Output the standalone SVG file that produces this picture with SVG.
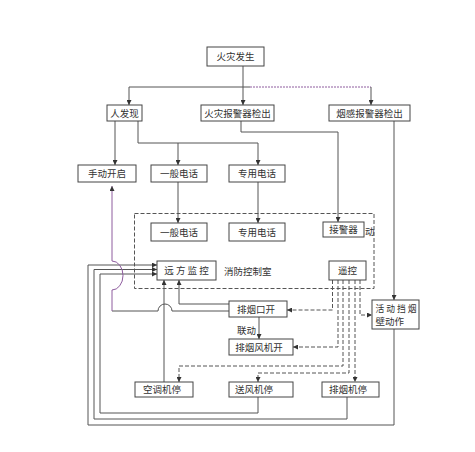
<svg xmlns="http://www.w3.org/2000/svg" width="475" height="452" viewBox="0 0 475 452">
<defs>
<marker id="ah" viewBox="0 0 6 6" refX="6" refY="3" markerWidth="5" markerHeight="5" markerUnits="userSpaceOnUse" orient="auto">
<path d="M0,0 L6,3 L0,6 Z" fill="#333"/>
</marker>
<style>
.box{fill:#fff;stroke:#444;stroke-width:1}
.t{font-family:"Noto Sans CJK SC","Noto Sans",sans-serif;font-size:9.5px;fill:#333;text-anchor:middle}
.tl{font-family:"Noto Sans CJK SC","Noto Sans",sans-serif;font-size:9.5px;fill:#333}
.ln{fill:none;stroke:#555;stroke-width:1}
.lna{fill:none;stroke:#555;stroke-width:1;marker-end:url(#ah)}
.pu{fill:none;stroke:#8e5c9e;stroke-width:1}
.da{fill:none;stroke:#555;stroke-width:1;stroke-dasharray:4,2;marker-end:url(#ah)}
.frame{fill:none;stroke:#555;stroke-width:1;stroke-dasharray:4,2}
</style>
</defs>
<rect width="475" height="452" fill="#fff"/>

<g id="controlroom">
<rect class="frame" x="134.5" y="213.5" width="239.5" height="75"/>
<text class="tl" x="224" y="274.5">消防控制室</text>
<text class="tl" x="365" y="235">动</text>
</g>

<g id="connectors">
<path class="lna" d="M243,66 V105"/>
<path class="ln" d="M129,87 H250"/>
<path class="pu" d="M250,87 H371" stroke-dasharray="2,1"/>
<path class="lna" d="M129,87 V105"/>
<path class="lna" d="M371,87 V105"/>
<path class="lna" d="M115,121 V165"/>
<path class="ln" d="M138,121 V143 H258"/>
<path class="lna" d="M178,143 V165"/>
<path class="lna" d="M258,143 V165"/>
<path class="lna" d="M241,121 V132 H338 V222"/>
<path class="lna" d="M394,121 V300"/>
<path class="lna" d="M178,182 V223"/>
<path class="lna" d="M258,182 V223"/>
<path class="lna" d="M394,329 V425 H88 V265 H157"/>
<path class="lna" d="M347,397 V419 H94 V269.5 H157"/>
<path class="lna" d="M258,397 V413 H100 V274 H157"/>
<path class="ln" d="M229,311 H172 A7,7 0 0 0 158,311 H112"/>
<path class="pu" d="M112,311 V290 A11,14.5 0 0 0 112,261 V186" marker-end="url(#ah)"/>
<path class="lna" d="M164,382 V280"/>
<path class="lna" d="M229,304 H179 V280"/>
<path class="lna" d="M259,317 V339"/>
<path class="da" d="M332.5,280 V310 H287"/>
<path class="da" d="M338,280 V347 H293"/>
<path class="da" d="M343,280 V366 H179 V382"/>
<path class="da" d="M349,280 V373 H258 V382"/>
<path class="da" d="M355,280 V382"/>
<path class="da" d="M360,280 V315 H372"/>
<text class="tl" x="237" y="334">联动</text>
</g>

<g id="n-fire"><rect class="box" x="207" y="47" width="57" height="19"/><text class="t" x="235.5" y="60">火灾发生</text></g>
<g id="n-person"><rect class="box" x="107" y="105" width="35" height="16"/><text class="t" x="124.5" y="116.5">人发现</text></g>
<g id="n-detector"><rect class="box" x="201" y="105" width="73" height="16"/><text class="t" x="237.5" y="116.5">火灾报警器检出</text></g>
<g id="n-smoke"><rect class="box" x="329" y="105" width="81" height="16"/><text class="t" x="369.5" y="116.5">烟感报警器检出</text></g>
<g id="n-manual"><rect class="box" x="78" y="165" width="58" height="17"/><text class="t" x="107" y="177">手动开启</text></g>
<g id="n-phone1"><rect class="box" x="151" y="165" width="56" height="17"/><text class="t" x="179" y="177">一般电话</text></g>
<g id="n-special1"><rect class="box" x="229" y="165" width="56" height="17"/><text class="t" x="257" y="177">专用电话</text></g>
<g id="n-phone2"><rect class="box" x="151" y="223" width="56" height="18"/><text class="t" x="179" y="235.5">一般电话</text></g>
<g id="n-special2"><rect class="box" x="229" y="223" width="56" height="18"/><text class="t" x="257" y="235.5">专用电话</text></g>
<g id="n-receiver"><rect class="box" x="323" y="222" width="41" height="15"/><text class="t" x="343.5" y="233">接警器</text></g>
<g id="n-remote"><rect class="box" x="157" y="261" width="59" height="19"/><text class="t" x="186.5" y="274">远 方 监 控</text></g>
<g id="n-rc"><rect class="box" x="329" y="261" width="37" height="19"/><text class="t" x="347.5" y="274">遥控</text></g>
<g id="n-outlet"><rect class="box" x="229" y="301" width="58" height="16"/><text class="t" x="256" y="312.5">排烟口开</text></g>
<g id="n-fanon"><rect class="box" x="229" y="339" width="64" height="16"/><text class="t" x="259" y="350.5">排烟风机开</text></g>
<g id="n-wall"><rect class="box" x="372" y="300" width="47" height="29"/><text class="tl" x="375.5" y="311.5" font-size="9" textLength="41" lengthAdjust="spacingAndGlyphs">活 动 挡 烟</text><text class="tl" x="375.5" y="325" font-size="9">壁动作</text></g>
<g id="n-ac"><rect class="box" x="135" y="382" width="58" height="15"/><text class="t" x="162" y="393">空调机停</text></g>
<g id="n-supply"><rect class="box" x="229" y="382" width="64" height="15"/><text class="t" x="254" y="393">送风机停</text></g>
<g id="n-exhaust"><rect class="box" x="322" y="382" width="57" height="15"/><text class="t" x="348" y="393">排烟机停</text></g>
</svg>
